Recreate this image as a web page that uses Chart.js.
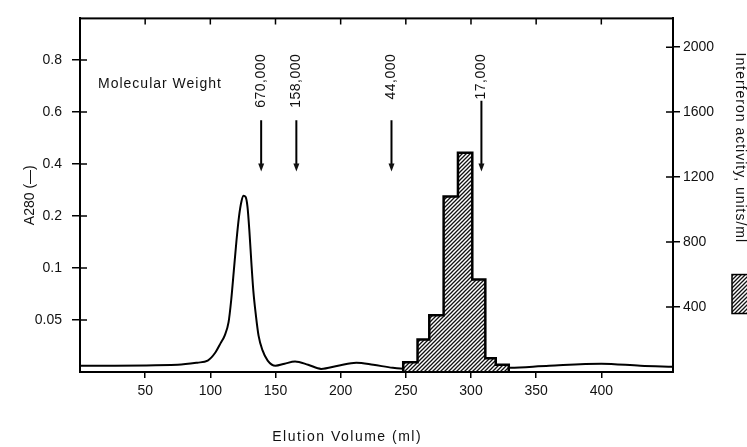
<!DOCTYPE html>
<html>
<head>
<meta charset="utf-8">
<script src="https://cdn.jsdelivr.net/npm/chart.js@4.4.0/dist/chart.umd.min.js"></script>
<style>
html, body { margin: 0; padding: 0; background: #fff; }
canvas { display: block; }
</style>
</head>
<body>
<canvas id="chart" width="747" height="447"></canvas>
<script>
// A280 elution profile (ml, absorbance)
const elutionVolume = [0, 75, 90, 98, 104, 108, 111, 114, 116, 118, 120, 122, 124, 125.5, 127, 128.5, 130, 131.5, 133, 135, 137, 140, 144, 150, 157, 165, 175, 185, 198, 212, 225, 240, 250, 270, 330, 360, 400, 430, 455];
const a280 = [0.006, 0.007, 0.009, 0.011, 0.019, 0.028, 0.035, 0.048, 0.069, 0.097, 0.151, 0.199, 0.259, 0.278, 0.274, 0.236, 0.170, 0.110, 0.078, 0.054, 0.035, 0.021, 0.011, 0.006, 0.008, 0.010, 0.007, 0.003, 0.006, 0.009, 0.007, 0.004, 0.003, 0.003, 0.004, 0.006, 0.008, 0.006, 0.005];

// interferon activity per fraction (units/ml)
const fractionStart = [248, 259, 268, 279, 290, 301, 311, 319];
const fractionEnd = 329;
const activity = [60, 200, 350, 1080, 1350, 570, 85, 45];

// tick labels
const volumeTicks = [50, 100, 150, 200, 250, 300, 350, 400];
const a280Ticks = [0.05, 0.1, 0.2, 0.4, 0.6, 0.8];   // drawn evenly spaced
const activityTicks = [400, 800, 1200, 1600, 2000];

// molecular weight markers
const markerLabels = ['670,000', '158,000', '44,000', '17,000'];
const markerVolume = [139, 166, 239, 308];

// the A280 axis is evenly spaced between uneven values
const a280Breaks = [0].concat(a280Ticks);
function a280ToPos(a) {
	for (let i = 1; i < a280Breaks.length; i++) {
		if (a <= a280Breaks[i]) {
			return i - 1 + (a - a280Breaks[i - 1]) / (a280Breaks[i] - a280Breaks[i - 1]);
		}
	}
	return a280Breaks.length - 1;
}

const curve = elutionVolume.map((v, i) => ({ x: v, y: a280ToPos(a280[i]) }));

// step outline: each fraction's value held from its start to the next start
const histogram = [];
for (let i = 0; i < activity.length; i++) {
	const end = i + 1 < fractionStart.length ? fractionStart[i + 1] : fractionEnd;
	histogram.push({ x: fractionStart[i], y: i === 0 ? 0 : activity[i - 1] });
	histogram.push({ x: fractionStart[i], y: activity[i] });
	if (i === activity.length - 1) {
		histogram.push({ x: end, y: activity[i] });
		histogram.push({ x: end, y: 0 });
	}
}

const canvas = document.getElementById('chart');
const ctx = canvas.getContext('2d');

function makeHatch() {
	const c = document.createElement('canvas');
	c.width = 4; c.height = 4;
	const g = c.getContext('2d');
	g.fillStyle = '#fff';
	g.fillRect(0, 0, 4, 4);
	g.strokeStyle = '#111';
	g.lineWidth = 1.3;
	g.beginPath();
	g.moveTo(0, 4); g.lineTo(4, 0);
	g.moveTo(-1, 1); g.lineTo(1, -1);
	g.moveTo(3, 5); g.lineTo(5, 3);
	g.stroke();
	return ctx.createPattern(c, 'repeat');
}
const hatch = makeHatch();

const FONT = '"Liberation Sans", Arial, sans-serif';

const decorations = {
	id: 'decorations',
	afterDraw(chart) {
		const c = chart.ctx;
		const a = chart.chartArea;
		const x = chart.scales.x, yA = chart.scales.yA, yR = chart.scales.yR;
		c.save();
		c.strokeStyle = '#000';
		c.fillStyle = '#111';

		// frame
		c.lineWidth = 2;
		c.strokeRect(a.left, a.top, a.right - a.left, a.bottom - a.top);

		// inward ticks
		c.lineWidth = 1.5;
		c.beginPath();
		x.ticks.forEach(t => {
			const px = x.getPixelForValue(t.value);
			c.moveTo(px, a.top); c.lineTo(px, a.top + 6);
		});
		yA.ticks.forEach(t => {
			const py = yA.getPixelForValue(t.value);
			c.moveTo(a.left, py); c.lineTo(a.left + 7, py);
		});
		yR.ticks.forEach(t => {
			const py = yR.getPixelForValue(t.value);
			c.moveTo(a.right - 7, py); c.lineTo(a.right, py);
		});
		c.stroke();

		// molecular weight markers
		c.font = '14px ' + FONT;
		c.textAlign = 'left';
		c.textBaseline = 'middle';
		c.letterSpacing = '1px';
		c.fillText('Molecular Weight', a.left + 18, yR.getPixelForValue(1775));
		const textTop = yR.getPixelForValue(1960);
		const arrowEnd = yR.getPixelForValue(1240);
		markerLabels.forEach((lab, i) => {
			const px = x.getPixelForValue(markerVolume[i]);
			const top = yR.getPixelForValue(i === 3 ? 1670 : 1550);
			c.save();
			c.translate(px, textTop);
			c.rotate(-Math.PI / 2);
			c.textAlign = 'right';
			c.letterSpacing = '0.5px';
			c.fillText(lab, 0, 0);
			c.restore();
			c.lineWidth = 2;
			c.beginPath();
			c.moveTo(px, top); c.lineTo(px, arrowEnd - 5);
			c.stroke();
			c.beginPath();
			c.moveTo(px - 3, arrowEnd - 7);
			c.lineTo(px + 3, arrowEnd - 7);
			c.lineTo(px, arrowEnd + 1);
			c.closePath();
			c.fill();
		});

		// axis titles
		c.letterSpacing = '1.5px';
		c.textAlign = 'center';
		c.fillText('Elution Volume (ml)', x.getPixelForValue(205), 437);
		c.letterSpacing = '0px';
		c.save();
		c.translate(30, (a.top + a.bottom) / 2);
		c.rotate(-Math.PI / 2);
		c.fillText('A280 (\u2014)', 0, 0);
		c.restore();
		c.save();
		c.letterSpacing = '1px';
		c.translate(740, yR.getPixelForValue(1380));
		c.rotate(Math.PI / 2);
		c.fillText('Interferon activity, units/ml', 0, 0);
		c.restore();

		// legend swatch for activity
		const sTop = yR.getPixelForValue(600), sBot = yR.getPixelForValue(360);
		c.fillStyle = hatch;
		c.fillRect(732, sTop, 16, sBot - sTop);
		c.lineWidth = 1.5;
		c.strokeRect(732, sTop, 16, sBot - sTop);
		c.restore();
	}
};

new Chart(canvas, {
	type: 'line',
	data: {
		datasets: [{
			label: 'Interferon activity',
			data: histogram,
			yAxisID: 'yR',
			fill: 'origin',
			tension: 0,
			backgroundColor: hatch,
			borderColor: '#000',
			borderWidth: 2.5,
			borderJoinStyle: 'miter',
			pointRadius: 0,
			order: 0
		},
		{
			label: 'A280',
			data: curve,
			yAxisID: 'yA',
			borderColor: '#000',
			borderWidth: 2,
			pointRadius: 0,
			cubicInterpolationMode: 'monotone',
			fill: false,
			order: 1
		}]
	},
	options: {
		responsive: false,
		devicePixelRatio: 1,
		animation: false,
		layout: { padding: { top: 15 } },
		plugins: {
			legend: { display: false },
			tooltip: { enabled: false }
		},
		scales: {
			x: {
				type: 'linear',
				min: 0,
				max: 455,
				afterBuildTicks: s => { s.ticks = volumeTicks.map(v => ({ value: v })); },
				afterFit: s => { s.height = 75; },
				grid: { drawOnChartArea: false, tickLength: 6, color: '#000', lineWidth: 1.5 },
				border: { color: '#000', width: 2 },
				ticks: { padding: 5, color: '#111', maxRotation: 0, font: { size: 14, family: FONT }, callback: v => String(v) }
			},
			yA: {
				type: 'linear',
				position: 'left',
				min: 0,
				max: 6.8,
				afterBuildTicks: s => { s.ticks = a280Ticks.map((v, i) => ({ value: i + 1 })); },
				afterFit: s => { s.width = 80; },
				grid: { drawOnChartArea: false, tickLength: 8, color: '#000', lineWidth: 1.5 },
				border: { color: '#000', width: 2 },
				ticks: {
					padding: 10, color: '#111', font: { size: 14, family: FONT },
					callback: v => String(a280Ticks[v - 1])
				}
			},
			yR: {
				type: 'linear',
				position: 'right',
				min: 0,
				max: 2177,
				afterBuildTicks: s => { s.ticks = activityTicks.map(v => ({ value: v })); },
				afterFit: s => { s.width = 74; },
				grid: { drawOnChartArea: false, tickLength: 7, color: '#000', lineWidth: 1.5 },
				border: { color: '#000', width: 2 },
				ticks: { padding: 3, color: '#111', font: { size: 14, family: FONT }, callback: v => String(v) }
			}
		}
	},
	plugins: [decorations]
});
</script>
</body>
</html>
